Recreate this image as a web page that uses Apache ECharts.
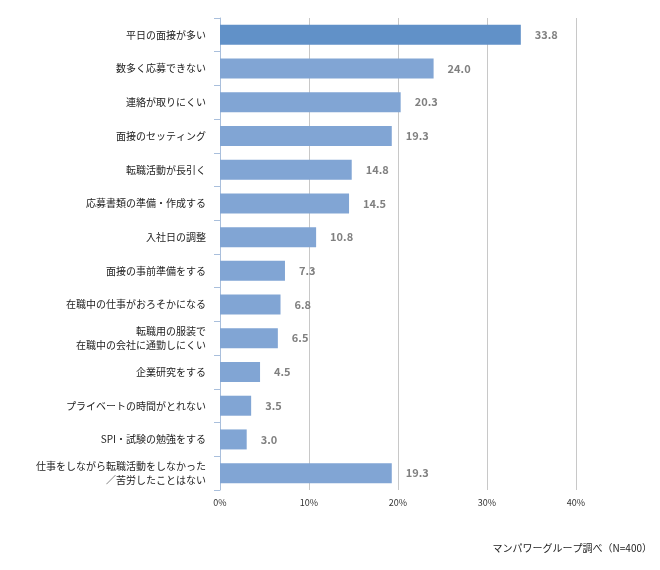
<!DOCTYPE html>
<html><head><meta charset="utf-8">
<script src="https://cdn.jsdelivr.net/npm/echarts@6/dist/echarts.min.js"></script>
<style>html,body{margin:0;background:#fff}#c{width:660px;height:570px}</style>
</head><body><div id="c"></div>
<script>
const categories = ["平日の面接が多い","数多く応募できない","連絡が取りにくい","面接のセッティング","転職活動が長引く","応募書類の準備・作成する","入社日の調整","面接の事前準備をする","在職中の仕事がおろそかになる","転職用の服装で\n在職中の会社に通勤しにくい","企業研究をする","プライベートの時間がとれない","SPI・試験の勉強をする","仕事をしながら転職活動をしなかった\n／苦労したことはない"];
const values = [33.8,24.0,20.3,19.3,14.8,14.5,10.8,7.3,6.8,6.5,4.5,3.5,3.0,19.3];
const font = "'Noto Sans CJK JP','Noto Sans',sans-serif";
const chart = echarts.init(document.getElementById('c'));
chart.setOption({
  animation:false,
  grid:{left:220,right:84,top:18,bottom:80},
  xAxis:{type:'value',min:0,max:40,interval:10,
    axisLabel:{formatter:'{value}%',color:'#333',fontSize:9,fontFamily:font,margin:8},
    splitLine:{lineStyle:{color:'#c8c8c8'}},axisLine:{show:false},axisTick:{show:false}},
  yAxis:{type:'category',inverse:true,data:categories,
    axisLine:{lineStyle:{color:'#a9bfdc'}},axisTick:{show:true,length:6,lineStyle:{color:'#a9bfdc'}},
    axisLabel:{color:'#222',fontSize:10,fontFamily:font,margin:14,lineHeight:14}},
  series:[{type:'bar',barWidth:20,
    data:values.map((v,i)=>({value:v,itemStyle:{color:i===0?'#6191c8':'#81a5d4'}})),
    label:{show:true,position:'right',distance:14,color:'#808080',fontSize:11,fontWeight:'bold',fontFamily:font,
      formatter:p=>p.value.toFixed(1)}}],
  graphic:[{type:'text',right:8,top:543,style:{text:'マンパワーグループ調べ（N=400）',fill:'#222',fontSize:10,fontFamily:font}}]
});
</script></body></html>
